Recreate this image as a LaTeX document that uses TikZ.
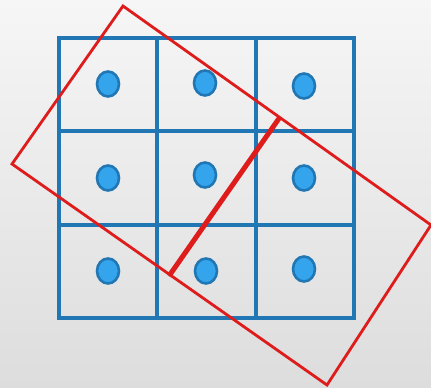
\documentclass[tikz,border=0pt]{standalone}
\usetikzlibrary{shapes.geometric}
\begin{document}
\begin{tikzpicture}[x=1pt,y=-1pt,
  gridline/.style={draw=gridblue,line width=3.4pt,line cap=rect},
  dot/.style={ellipse,draw=gridblue,fill=dotblue,line width=2.6pt,minimum width=22pt,minimum height=25pt,inner sep=0pt},
  redline/.style={draw=redc,line width=2.8pt,line join=miter}]
\definecolor{gridblue}{RGB}{33,118,180}
\definecolor{dotblue}{RGB}{52,164,236}
\definecolor{redc}{RGB}{222,28,28}
\path[shade,top color={rgb,255:red,246;green,246;blue,246},bottom color={rgb,255:red,221;green,221;blue,221}] (0,0) rectangle (431,388);
\useasboundingbox (0,0) rectangle (431,388);
% grid
\draw[gridline] (59,38) rectangle (354,318);
\draw[gridline] (157,38) -- (157,318);
\draw[gridline] (256,38) -- (256,318);
\draw[gridline] (59,131) -- (354,131);
\draw[gridline] (59,225) -- (354,225);
% dots
\node[dot] (d11) at (108,84) {};
\node[dot] (d12) at (205,83) {};
\node[dot] (d13) at (304,86) {};
\node[dot] (d21) at (108,178) {};
\node[dot] (d22) at (205,175) {};
\node[dot] (d23) at (304,178) {};
\node[dot] (d31) at (108,271) {};
\node[dot] (d32) at (206,271) {};
\node[dot] (d33) at (304,269) {};
% red rectangle
\coordinate (rt) at (123,6);
\coordinate (rl) at (12,164);
\coordinate (rb) at (327,385);
\coordinate (rr) at (431,225);
\draw[redline] (rt) -- (rr) -- (rb) -- (rl) -- cycle;
\coordinate (ma) at (280,117);
\coordinate (mb) at (169,276);
\draw[draw=redc,line width=5pt] (ma) -- (mb);
\end{tikzpicture}
\end{document}
